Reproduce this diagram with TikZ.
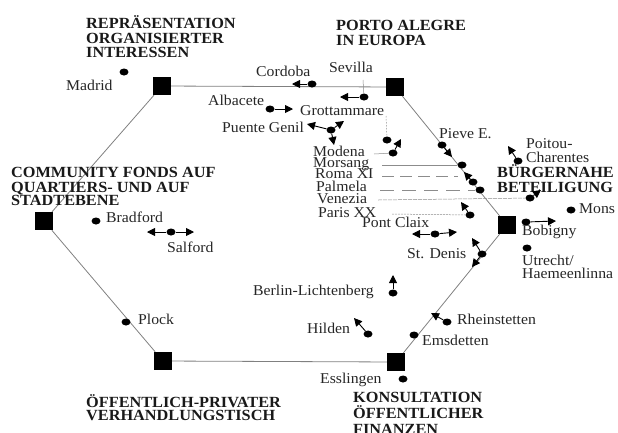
\documentclass[tikz,border=0pt]{standalone}
\usepackage{fontspec}
\setmainfont{Liberation Serif}[FakeStretch=1.05]
\usetikzlibrary{arrows.meta,shapes.geometric}
\begin{document}
\begin{tikzpicture}[x=1pt,y=-1pt,
  hub/.style={rectangle,fill=black,minimum size=18pt,inner sep=0pt},
  blob/.style={ellipse,fill=black,minimum width=9pt,minimum height=7pt,inner sep=0pt},
  lab/.style={anchor=base west,inner sep=0pt,text=black!85,font=\fontsize{15}{15}\selectfont},
  ttl/.style={anchor=base west,inner sep=0pt,text=black!90,font=\fontsize{15.5}{15.5}\selectfont\bfseries},
  hexline/.style={draw=black!50,line width=0.8pt},
  guide/.style={draw=black!45,line width=0.5pt},
  tip/.style={-{Triangle[length=8pt,width=8pt]},line width=0.9pt},
]
\useasboundingbox (0,0) rectangle (618,432);

% hubs
\node[hub] (sTL) at (162,86) {};
\node[hub] (sTR) at (395,87) {};
\node[hub] (sR)  at (507,225) {};
\node[hub] (sBR) at (396,362) {};
\node[hub] (sBL) at (163,361) {};
\node[hub] (sL)  at (44,221) {};
\draw[hexline] (sTL) -- (sTR) -- (sR) -- (sBR) -- (sBL) -- (sL) -- (sTL);

% titles
\node[ttl] (t1a) at (86,28) {REPRÄSENTATION};
\node[ttl] (t1b) at (86,43) {ORGANISIERTER};
\node[ttl] (t1c) at (86,57) {INTERESSEN};
\node[ttl] (t2a) at (336,30) {PORTO ALEGRE};
\node[ttl] (t2b) at (336,45) {IN EUROPA};
\node[ttl] (t3a) at (11,177) {COMMUNITY FONDS AUF};
\node[ttl] (t3b) at (11,192) {QUARTIERS- UND AUF};
\node[ttl] (t3c) at (11,205) {STADTEBENE};
\node[ttl] (t4a) at (497,177) {BÜRGERNAHE};
\node[ttl] (t4b) at (497,192) {BETEILIGUNG};
\node[ttl] (t5a) at (86,407) {ÖFFENTLICH-PRIVATER};
\node[ttl] (t5b) at (86,420) {VERHANDLUNGSTISCH};
\node[ttl] (t6a) at (353,402) {KONSULTATION};
\node[ttl] (t6b) at (353,418) {ÖFFENTLICHER};
\node[ttl] (t6c) at (353,434) {FINANZEN};

% dots
\node[blob] (dMad) at (124,72) {};
\node[blob] (dCor) at (312,84) {};
\node[blob] (dSev) at (364,97) {};
\node[blob] (dAlb) at (270,109) {};
\node[blob] (dPG)  at (331,130) {};
\node[blob] (dGro) at (387,140) {};
\node[blob] (dMod) at (393,153) {};
\node[blob] (dPie) at (442,145) {};
\node[blob] (dMor) at (462,165) {};
\node[blob] (dRom) at (473,182) {};
\node[blob] (dPal) at (480,190) {};
\node[blob] (dVen) at (530,198) {};
\node[blob] (dPoi) at (518,161) {};
\node[blob] (dPar) at (470,215) {};
\node[blob] (dPon) at (435,234) {};
\node[blob] (dBob) at (526,222) {};
\node[blob] (dMon) at (571,210) {};
\node[blob] (dUtr) at (527,248) {};
\node[blob] (dDen) at (482,254) {};
\node[blob] (dBer) at (393,293) {};
\node[blob] (dHil) at (368,334) {};
\node[blob] (dRhe) at (447,322) {};
\node[blob] (dEms) at (414,335) {};
\node[blob] (dEss) at (403,379) {};
\node[blob] (dPlo) at (126,322) {};
\node[blob] (dBra) at (96,221) {};
\node[blob] (dSal) at (171,232) {};

% labels
\node[lab] (lMad) at (66,90) {Madrid};
\node[lab] (lCor) at (256,76) {Cordoba};
\node[lab] (lSev) at (329,72) {Sevilla};
\node[lab] (lAlb) at (208,105) {Albacete};
\node[lab] (lGro) at (300,115) {Grottammare};
\node[lab] (lPG)  at (222,132) {Puente Genil};
\node[lab] (lMod) at (313,156) {Modena};
\node[lab] (lMor) at (313,167) {Morsang};
\node[lab] (lRom) at (315,178) {Roma XI};
\node[lab] (lPal) at (316,191) {Palmela};
\node[lab] (lVen) at (317,203) {Venezia};
\node[lab] (lPar) at (318,217) {Paris XX};
\node[lab] (lPon) at (362,227) {Pont Claix};
\node[lab] (lPie) at (439,138) {Pieve E.};
\node[lab] (lPoi1) at (526,148) {Poitou-};
\node[lab] (lPoi2) at (526,162) {Charentes};
\node[lab] (lMon) at (579,213) {Mons};
\node[lab] (lBob) at (522,235) {Bobigny};
\node[lab] (lUtr1) at (522,265) {Utrecht/};
\node[lab] (lUtr2) at (522,278) {Haemeenlinna};
\node[lab] (lDen) at (407,258) {St. Denis};
\node[lab] (lBer) at (253,295) {Berlin-Lichtenberg};
\node[lab] (lHil) at (307,333) {Hilden};
\node[lab] (lRhe) at (457,324) {Rheinstetten};
\node[lab] (lEms) at (422,345) {Emsdetten};
\node[lab] (lEss) at (320,383) {Esslingen};
\node[lab] (lPlo) at (138,324) {Plock};
\node[lab] (lBra) at (106,222) {Bradford};
\node[lab] (lSal) at (167,252) {Salford};

% guide lines from labels to dots
\coordinate (gSev) at (363,80);
\coordinate (gGro) at (386,116);
\coordinate (gMod) at (374,154);
\coordinate (gMor) at (382,165);
\coordinate (gRomA) at (382,176);
\coordinate (gRomB) at (458,176);
\coordinate (gPalA) at (380,190);
\coordinate (gVen) at (378,200);
\coordinate (gPar) at (392,214);
\draw[guide] (gSev) -- (dSev);
\draw[guide,dash pattern=on 1.5pt off 1.5pt] (gGro) -- (dGro);
\draw[guide] (gMod) -- (dMod);
\draw[guide] (gMor) -- (dMor);
\draw[guide,dash pattern=on 12pt off 6pt] (gRomA) -- (gRomB);
\draw[guide,dash pattern=on 14pt off 8pt] (gPalA) -- (dPal);
\draw[guide,dash pattern=on 4pt off 1pt] (gVen) -- (dVen);
\draw[guide,dash pattern=on 2pt off 1pt] (gPar) -- (dPar);

% arrows
\draw[tip] (dCor) -- (292,84);
\draw[tip] (dSev) -- (340,97);
\draw[tip] (dAlb) -- (293,109);
\draw[tip] (dPG) -- (307,124);
\draw[tip] (dPG) -- (344,121);
\draw[tip] (dPG) -- (334,145);
\draw[tip] (dMod) -- (401,139);
\draw[tip] (dPie) -- (452,157);
\draw[tip] (dRom) -- (464,172);
\draw[tip] (dVen) -- (541,190);
\draw[tip] (dPoi) -- (508,146);
\draw[tip] (dPar) -- (461,202);
\draw[tip] (dPon) -- (412,234);
\draw[tip] (dPon) -- (457,232);
\draw[tip] (dBob) -- (556,221);
\draw[tip] (dDen) -- (472,238);
\draw[tip] (dDen) -- (472,267);
\draw[tip] (dBer) -- (393,275);
\draw[tip] (dHil) -- (354,318);
\draw[tip] (dRhe) -- (431,313);
\draw[tip] (dSal) -- (147,232);
\draw[tip] (dSal) -- (194,232);
\end{tikzpicture}
\end{document}
